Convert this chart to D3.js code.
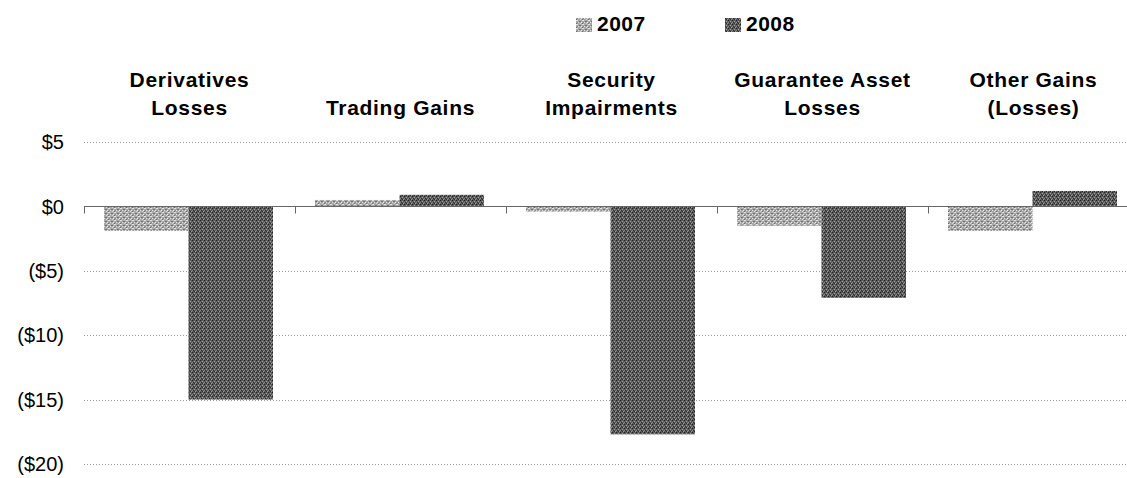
<!DOCTYPE html>
<html><head><meta charset="utf-8">
<script src="https://cdn.jsdelivr.net/npm/d3@7"></script>
<style>body{margin:0;background:#fff}svg{display:block}</style>
</head><body>
<script>
const categories = [["Derivatives","Losses"],["Trading Gains"],["Security","Impairments"],["Guarantee Asset","Losses"],["Other Gains","(Losses)"]];
const seriesNames = ["2007","2008"];
const values2007 = [-1.9, 0.5, -0.4, -1.5, -1.9];
const values2008 = [-15.0, 0.9, -17.7, -7.1, 1.2];
const yTicks = [5, 0, -5, -10, -15, -20];

const W = 1127, H = 478;
const FONT = "Liberation Sans, Arial, sans-serif";
const svg = d3.select("body").append("svg").attr("width", W).attr("height", H);
const defs = svg.append("defs");

// pattern 2007: light noisy gray
const p1 = defs.append("pattern").attr("id","p2007").attr("patternUnits","userSpaceOnUse").attr("width",6).attr("height",4);
p1.append("rect").attr("width",6).attr("height",4).attr("fill","#a8a8a8");
[[0,0,"#e8e8e8"],[1,0,"#e0e0e0"],[3,1,"#707070"],[4,1,"#777"],[2,2,"#dcdcdc"],[5,2,"#e8e8e8"],[0,3,"#6a6a6a"],[4,3,"#d8d8d8"],[1,2,"#888"]].forEach(([x,y,c])=>p1.append("rect").attr("x",x).attr("y",y).attr("width",1).attr("height",1).attr("fill",c));
// pattern 2008: dark stripes
const p2 = defs.append("pattern").attr("id","p2008").attr("patternUnits","userSpaceOnUse").attr("width",4).attr("height",4);
p2.append("rect").attr("width",4).attr("height",4).attr("fill","#5a5a5a");
[[0,0,"#222"],[2,1,"#a0a0a0"],[1,2,"#303030"],[3,3,"#9a9a9a"],[2,3,"#2a2a2a"],[0,2,"#8a8a8a"]].forEach(([x,y,c])=>p2.append("rect").attr("x",x).attr("y",y).attr("width",1).attr("height",1).attr("fill",c));
const fills = ["url(#p2007)","url(#p2008)"];

const x0 = d3.scaleBand().domain(d3.range(categories.length)).range([84, 84 + 211*5]).paddingInner(0).paddingOuter(0);
const x1 = d3.scaleBand().domain(seriesNames).range([20, 211-22]);
const y = d3.scaleLinear().domain([-20, 5]).range([464, 142]);

// gridlines
svg.append("g").selectAll("line").data(yTicks.filter(d=>d!==0)).join("line")
  .attr("x1",84).attr("x2",W).attr("y1",d=>Math.round(y(d))+0.5).attr("y2",d=>Math.round(y(d))+0.5)
  .attr("stroke","#999").attr("stroke-width",1).attr("stroke-dasharray","1,2");

// y labels
svg.append("g").selectAll("text").data(yTicks).join("text")
  .attr("x",64).attr("y",d=>y(d)).attr("dy","0.36em").attr("text-anchor","end")
  .attr("font-family",FONT).attr("font-size",20).attr("fill","#000")
  .text(d=> d<0 ? `($${-d})` : `$${d}`);

// bars
const series = [values2007, values2008];
series.forEach((vals, si) => {
  svg.append("g").selectAll("rect").data(vals).join("rect")
    .attr("x",(d,i)=>x0(i)+x1(seriesNames[si]))
    .attr("width",x1.bandwidth())
    .attr("y",d=>y(Math.max(0,d)))
    .attr("height",d=>Math.abs(y(d)-y(0)))
    .attr("fill",fills[si]);
});

// zero axis
const y0 = Math.round(y(0))+0.5;
svg.append("line").attr("x1",84).attr("x2",W).attr("y1",y0).attr("y2",y0).attr("stroke","#666").attr("stroke-width",1);
svg.append("g").selectAll("line").data(d3.range(categories.length)).join("line")
  .attr("x1",i=>Math.round(x0(i))+0.5).attr("x2",i=>Math.round(x0(i))+0.5).attr("y1",y0).attr("y2",y0+7)
  .attr("stroke","#666");

// category labels
const cg = svg.append("g").attr("font-family",FONT).attr("font-weight","bold").attr("font-size",21).attr("letter-spacing","0.7px").attr("text-anchor","middle");
categories.forEach((lines,i)=>{
  const cx = x0(i)+x0.bandwidth()/2;
  lines.forEach((t,j)=>{
    cg.append("text").attr("x",cx).attr("y",115 - (lines.length-1-j)*28).text(t);
  });
});

// legend
const legendX = [576, 725];
const lg = svg.append("g");
seriesNames.forEach((s,i)=>{
  lg.append("rect").attr("x",legendX[i]).attr("y",18).attr("width",16).attr("height",14).attr("fill",fills[i]);
  lg.append("text").attr("x",legendX[i]+21).attr("y",31).attr("font-family",FONT).attr("font-weight","bold").attr("font-size",21).attr("letter-spacing","0.5px").text(s);
});
</script>
</body></html>
